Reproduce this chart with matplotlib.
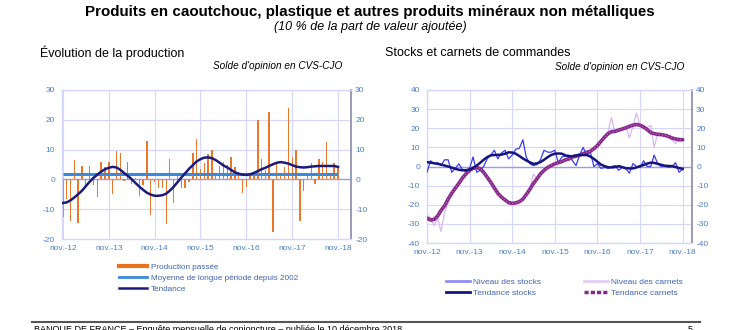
import matplotlib
matplotlib.use("Agg")
import matplotlib.pyplot as plt
from matplotlib.lines import Line2D
import numpy as np
import pandas as pd

plt.rcParams['font.family'] = ['Liberation Sans', 'DejaVu Sans']
plt.rcParams['axes.unicode_minus'] = False

# ---------------- data ----------------
months = pd.date_range('2012-11-01', periods=73, freq='MS')
tick_dates = pd.date_range('2012-11-01', periods=7, freq='12MS')
tick_labels = ["nov.-12", "nov.-13", "nov.-14", "nov.-15", "nov.-16", "nov.-17", "nov.-18"]

production_passee = [
    -12.5, -6.5, -14, 6.5, -14.5, 4.5, -3, 4.5, -2, -6, 6, 4,
    6, -5, 9.5, 9, -0.5, 6, -1.5, 0.5, -5.5, -2, 13, -12,
    -1, -3, -3, -15, 7, -8, 1.5, -3, -3, -1, 9, 13.5,
    3.5, 5.5, 8.5, 10, 1, 4.5, 6, 5, 7.5, 4, 1, -4.5,
    -2.5, 1, 1, 20, 7, 3, 22.5, -17.5, 6, 1.5, 4, 24,
    7.5, 10, -14, -4, 1.5, 5.5, -1.5, 7, 6, 12.5, 2, 5.5,
    4]
moyenne_longue_periode = 1.9
tendance_production = [
    -7.9, -7.7, -7.0, -6.0, -5.0, -3.8, -2.3, -0.8, 0.5, 1.6, 2.6, 3.4,
    3.9, 4.2, 4.0, 3.2, 2.2, 1.2, 0.1, -1.2, -2.4, -3.5, -4.5, -5.1,
    -5.5, -5.5, -5.3, -4.8, -3.8, -2.5, -1.0, 0.6, 2.0, 3.5, 4.8, 6.0,
    6.8, 7.3, 7.4, 7.1, 6.5, 5.6, 4.7, 4.0, 3.2, 2.4, 1.9, 1.6,
    1.5, 1.7, 2.2, 2.8, 3.4, 3.9, 4.5, 5.1, 5.6, 5.8, 5.6, 5.3,
    4.8, 4.3, 4.1, 4.0, 4.1, 4.3, 4.4, 4.5, 4.5, 4.5, 4.5, 4.5,
    4.2]

niveau_stocks = [
    -3, 3, 1.5, 2, 0.5, 3.5, 3.5, -3, -1, 1.4, -1.5, -3,
    -1, 5, -3, -2, 0, 4, 6, 8.5, 4, 7, 8.5, 4,
    6, 9, 9.5, 14, 5, 1.5, 0.5, 1, 3.5, 8.5, 7.5, 7.5,
    8.5, 2, 5, 5.5, 6, 3, 0.5, 6, 10, 6, 7.5, 0,
    1.5, -1, -0.5, -1, 0, 0.5, -2, -0.5, -1, -3.5, 1.5, 0,
    -0.5, 3, 0, 0, 6, 1.5, 0, 0.5, -0.5, 0, 2, -3,
    -1.5]
tendance_stocks = [
    2.3, 2.0, 1.7, 1.4, 1.0, 0.5, 0.0, -0.6, -1.2, -1.7, -2.0, -1.9,
    -1.6, -0.8, 0.5, 2.0, 3.5, 4.9, 5.8, 6.0, 6.1, 6.2, 6.7, 7.4,
    7.3, 6.7, 5.5, 4.2, 3.2, 2.2, 1.4, 1.6, 2.3, 3.5, 4.9, 6.0,
    6.7, 6.8, 6.7, 5.8, 5.3, 5.4, 5.8, 6.0, 6.0, 6.0, 5.2, 4.0,
    2.5, 1.0, 0.2, -0.4, -0.5, -0.3, 0.2, -0.3, -0.9, -1.0, -1.0, -0.5,
    0.2, 0.8, 1.5, 2.0, 1.9, 1.4, 0.9, 0.4, 0.3, 0.2, -0.3, -0.8,
    -1.2]
niveau_carnets = [
    -25, -27, -31, -27, -34, -24, -19, -14, -12, -9, -6, -4,
    -2, 0, -1, -1.5, -3, -6, -8, -11, -15, -15.5, -17, -20,
    -19, -20, -18, -17.5, -14, -12, -4, -6, -4, -2, -1, 1,
    1, 3, 2, 4, 3, 5, 6, 5, 7, 7.5, 8, 9,
    12, 13, 16, 18.5, 25.6, 17.4, 19, 20, 21, 15, 21, 28,
    21, 20, 20.5, 21.5, 10, 17.4, 16.5, 16, 15.5, 14, 12, 15,
    14]
tendance_carnets = [
    -27, -28, -27.7, -25.8, -23, -20.5, -17, -14, -11.4, -8.8, -6, -3.9,
    -2, -0.9, -0.5, -1.2, -3, -5.6, -8.2, -11.2, -14, -16, -17.5, -18.8,
    -19.3, -19, -18.4, -17, -14.7, -12, -9, -6.5, -3.9, -2, -0.5, 0.5,
    1.4, 2, 2.6, 3.5, 4, 5, 5.4, 6, 6.7, 7.4, 8, 9.3,
    11, 13.2, 15.4, 17.2, 18.2, 18.4, 19, 19.6, 20.2, 21, 21.6, 22,
    21.6, 20.7, 19.3, 17.7, 17.2, 16.8, 16.7, 16.3, 15.8, 14.9, 14.4, 14,
    14]

# ---------------- styles ----------------
W, H = 750, 330
GRID = '#D6D6FA'
TICKC = '#4A7EC8'
ZERO = '#9C9CEB'
RSPINE = '#9A9AB8'
LEGTXT = '#3F63B0'


def fr(x0, y0, x1, y1):
    return [x0 / W, 1 - y1 / H, (x1 - x0) / W, (y1 - y0) / H]


fig = plt.figure(figsize=(7.5, 3.3), dpi=100)
fig.patch.set_facecolor('white')


def style_axes(ax, ylim, yticks, xlim):
    ax.set_xlim(*xlim)
    ax.set_ylim(*ylim)
    ax.set_yticks(yticks)
    ax.set_xticks(tick_dates)
    ax.set_xticklabels(tick_labels)
    ax.grid(True, color=GRID, lw=0.8)
    ax.set_axisbelow(True)
    for s in ['left', 'top', 'bottom']:
        ax.spines[s].set_color(GRID)
        ax.spines[s].set_linewidth(1.0)
    ax.spines['right'].set_color(RSPINE)
    ax.spines['right'].set_linewidth(1.4)
    ax.tick_params(axis='y', length=0, labelsize=6, labelcolor=TICKC, pad=5)
    ax.tick_params(axis='x', length=0, labelsize=6, labelcolor=TICKC, pad=4)
    ax.axhline(0, color=ZERO, lw=1.0, zorder=1)
    ax2 = ax.twinx()
    ax2.set_ylim(*ylim)
    ax2.set_yticks(yticks)
    ax2.tick_params(axis='y', length=0, labelsize=6, labelcolor=TICKC, pad=3)
    for s in ax2.spines.values():
        s.set_visible(False)
    return ax2


# ---------------- left chart ----------------
axL = fig.add_axes(fr(62, 90, 351, 239))
style_axes(axL, (-20, 30), [-20, -10, 0, 10, 20, 30],
           (pd.Timestamp('2012-10-24'), pd.Timestamp('2019-02-12')))
axL.bar(months, production_passee, width=11, color='#E9782A', zorder=2)
axL.plot([months[0], months[-1]], [moyenne_longue_periode] * 2,
         color='#3A89DA', lw=2.2, zorder=3, solid_capstyle='butt')
axL.plot(months, tendance_production, color='#1B1B7E', lw=1.8, zorder=4)

# ---------------- right chart ----------------
axR = fig.add_axes(fr(427, 90, 692, 243))
style_axes(axR, (-40, 40), [-40, -30, -20, -10, 0, 10, 20, 30, 40],
           (pd.Timestamp('2012-11-01'), pd.Timestamp('2019-01-20')))
axR.plot(months, niveau_carnets, color='#D9B8F2', lw=0.9, zorder=2)
axR.plot(months, niveau_stocks, color='#3A3AF2', lw=0.9, zorder=3)
axR.plot(months, tendance_carnets, color='#86288A', lw=2.6, zorder=4,
         solid_capstyle='round')
axR.plot(months, tendance_carnets, color='#B566B8', lw=0.9, ls=(0, (1, 1.5)), zorder=5)
axR.plot(months, tendance_stocks, color='#15157A', lw=1.8, zorder=6)

# ---------------- titles ----------------
fig.text(370 / W, 1 - 12 / H, "Produits en caoutchouc, plastique et autres produits minéraux non métalliques",
         ha='center', va='center', fontsize=10.9, fontweight='bold')
fig.text(370 / W, 1 - 27 / H, "(10 % de la part de valeur ajoutée)",
         ha='center', va='center', fontsize=9, style='italic')
fig.text(40 / W, 1 - 53 / H, "Évolution de la production", ha='left', va='center', fontsize=9)
fig.text(385 / W, 1 - 53 / H, "Stocks et carnets de commandes", ha='left', va='center', fontsize=9)
fig.text(342 / W, 1 - 66 / H, "Solde d'opinion en CVS-CJO", ha='right', va='center',
         fontsize=7.2, style='italic')
fig.text(684 / W, 1 - 67 / H, "Solde d'opinion en CVS-CJO", ha='right', va='center',
         fontsize=7.2, style='italic')

# ---------------- legends ----------------
hL = [Line2D([], [], color='#E8731C', lw=3),
      Line2D([], [], color='#3A89DA', lw=2),
      Line2D([], [], color='#1B1B7E', lw=1.8)]
fig.legend(hL, ["Production passée", "Moyenne de longue période depuis 2002", "Tendance"],
           loc='upper left', bbox_to_anchor=(119 / W, 1 - 263 / H), frameon=False,
           fontsize=5.9, labelcolor=LEGTXT, handlelength=3.4, handletextpad=0.5,
           labelspacing=0.42, borderpad=0, borderaxespad=0)
hR = [Line2D([], [], color='#8F8FF5', lw=2),
      Line2D([], [], color='#15157A', lw=2),
      Line2D([], [], color='#E6CCF7', lw=2),
      Line2D([], [], color='#86288A', lw=2.5, ls=(0, (1.2, 0.6)))]
fig.legend(hR, ["Niveau des stocks", "Tendance stocks", "Niveau des carnets", "Tendance carnets"],
           ncol=2, loc='upper left', bbox_to_anchor=(446 / W, 1 - 278 / H), frameon=False,
           fontsize=6, labelcolor=LEGTXT, handlelength=2.9, handletextpad=0.3,
           labelspacing=0.45, columnspacing=5.2, borderpad=0, borderaxespad=0)

# ---------------- footer ----------------
fig.add_artist(Line2D([32 / W, 700 / W], [1 - 322 / H, 1 - 322 / H], color='#555555', lw=1.5))
fig.text(34 / W, 1 - 325 / H,
         "BANQUE DE FRANCE – Enquête mensuelle de conjoncture – publiée le 10 décembre 2018",
         ha='left', va='top', fontsize=6.5)
fig.text(688 / W, 1 - 325 / H, "5", ha='left', va='top', fontsize=6.5)

fig.savefig('out.png', dpi=100)
